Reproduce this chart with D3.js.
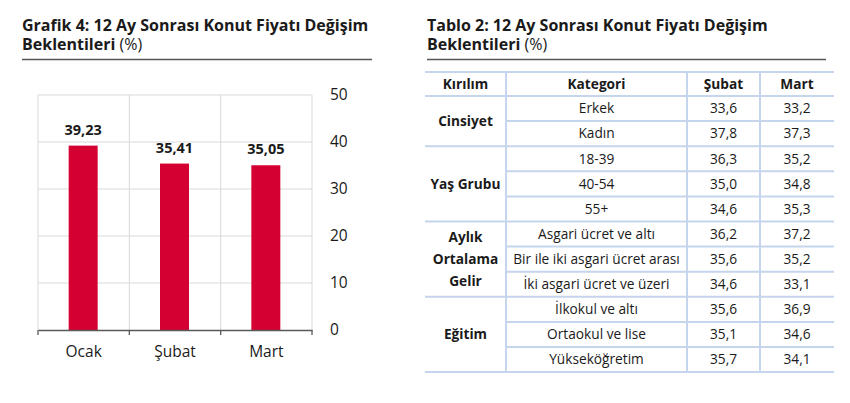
<!DOCTYPE html>
<html><head><meta charset="utf-8">
<script src="https://cdn.jsdelivr.net/npm/d3@7"></script>
<style>
body{margin:0;background:#fff;}
svg text{font-family:"Open Sans",sans-serif;}
</style></head>
<body><svg id="c" width="850" height="403"></svg>
<script>
// Chart data
const months = ["Ocak", "Şubat", "Mart"];
const values = [39.23, 35.41, 35.05];
const yTicks = [0, 10, 20, 30, 40, 50];

// Table data
const tableHeaders = ["Kırılım", "Kategori", "Şubat", "Mart"];
const groups = ["Cinsiyet", "Yaş Grubu", "Aylık\nOrtalama\nGelir", "Eğitim"];
const groupSizes = [2, 3, 3, 3];
const categories = ["Erkek", "Kadın", "18-39", "40-54", "55+", "Asgari ücret ve altı",
  "Bir ile iki asgari ücret arası", "İki asgari ücret ve üzeri", "İlkokul ve altı",
  "Ortaokul ve lise", "Yükseköğretim"];
const subat = ["33,6", "37,8", "36,3", "35,0", "34,6", "36,2", "35,6", "34,6", "35,6", "35,1", "35,7"];
const mart  = ["33,2", "37,3", "35,2", "34,8", "35,3", "37,2", "35,2", "33,1", "36,9", "34,6", "34,1"];

const svg = d3.select("#c");
const fmt = v => d3.format(".2f")(v).replace(".", ",");

// ---- Titles
function title(x, l1, l2) {
  svg.append("text").attr("x", x).attr("y", 30.5).attr("font-size", 16).attr("font-weight", 700).attr("fill", "#1a1a1a").text(l1);
  const t2 = svg.append("text").attr("x", x).attr("y", 49.5).attr("font-size", 16).attr("fill", "#1a1a1a");
  t2.append("tspan").attr("font-weight", 700).text(l2);
  t2.append("tspan").attr("font-weight", 400).attr("font-size", 16).text(" (%)");
}
title(22, "Grafik 4: 12 Ay Sonrası Konut Fiyatı Değişim", "Beklentileri");
title(427, "Tablo 2: 12 Ay Sonrası Konut Fiyatı Değişim", "Beklentileri");
svg.append("line").attr("x1", 22).attr("x2", 372).attr("y1", 59.5).attr("y2", 59.5).attr("stroke", "#555").attr("stroke-width", 1.3);
svg.append("line").attr("x1", 427).attr("x2", 826).attr("y1", 59.5).attr("y2", 59.5).attr("stroke", "#555").attr("stroke-width", 1.3);

// ---- Bar chart
const x = d3.scaleBand().domain(months).range([38, 312]).paddingInner(0).paddingOuter(0);
const y = d3.scaleLinear().domain([0, 50]).range([330, 95]);
const g = svg.append("g");
g.selectAll(".hg").data(yTicks.filter(d => d > 0)).join("line")
  .attr("x1", 38).attr("x2", 312).attr("y1", d => y(d)).attr("y2", d => y(d))
  .attr("stroke", "#d9d9d9").attr("stroke-width", 1);
const vx = months.map(m => x(m)).concat([x.range()[1]]);
g.selectAll(".vg").data(vx).join("line")
  .attr("x1", d => d).attr("x2", d => d).attr("y1", y(50)).attr("y2", y(0))
  .attr("stroke", "#d9d9d9").attr("stroke-width", 1);
const bw = 29;
g.selectAll("rect").data(values).join("rect")
  .attr("x", (d, i) => x(months[i]) + x.bandwidth() / 2 - bw / 2 - 0.5)
  .attr("width", bw).attr("y", d => y(d)).attr("height", d => y(0) - y(d))
  .attr("fill", "#d50032");
g.selectAll(".vl").data(values).join("text")
  .attr("x", (d, i) => x(months[i]) + x.bandwidth() / 2 - 0.5)
  .attr("y", d => y(d) - 11).attr("text-anchor", "middle")
  .attr("font-size", 14.5).attr("font-weight", 700).attr("fill", "#1a1a1a").text(fmt);
const xa = svg.append("g").attr("transform", `translate(0,${y(0)})`)
  .call(d3.axisBottom(x).tickSize(0).tickPadding(16));
xa.select(".domain").attr("stroke", "#595959").attr("stroke-width", 1.3);
xa.selectAll("text").attr("font-size", 15.5).attr("fill", "#1a1a1a").attr("font-family", "Open Sans");
svg.append("g").selectAll("line").data(vx).join("line")
  .attr("x1", d => d).attr("x2", d => d).attr("y1", y(0)).attr("y2", y(0) + 5)
  .attr("stroke", "#595959").attr("stroke-width", 1.3);
const ya = svg.append("g").attr("transform", "translate(312,0)")
  .call(d3.axisRight(y).tickValues(yTicks).tickSize(0).tickPadding(18));
ya.select(".domain").remove();
ya.selectAll("text").attr("font-size", 15.5).attr("fill", "#1a1a1a").attr("font-family", "Open Sans");

// ---- Table
const colX = [425, 506, 687, 760, 834];
const tTop = 72, headH = 24, rowH = 25.1;
const fs = 13.7;
const tg = svg.append("g");
const lineCol = "#c5d5eb";
const rowY = i => tTop + headH + i * rowH;
const nRows = categories.length;
tableHeaders.forEach((h, j) => {
  tg.append("text").attr("x", (colX[j] + colX[j + 1]) / 2).attr("y", tTop + headH / 2 + 4.8)
    .attr("text-anchor", "middle").attr("font-size", fs).attr("font-weight", 700).attr("fill", "#1a1a1a").text(h);
});
categories.forEach((c, i) => {
  const cy = rowY(i) + rowH / 2 + 4.8;
  [c, subat[i], mart[i]].forEach((v, k) => {
    tg.append("text").attr("x", (colX[k + 1] + colX[k + 2]) / 2).attr("y", cy)
      .attr("text-anchor", "middle").attr("font-size", fs).attr("fill", "#1a1a1a").text(v);
  });
});
let start = 0;
const groupStarts = [];
groups.forEach((gname, gi) => {
  groupStarts.push(start);
  const lines = gname.split("\n");
  const midY = rowY(start) + groupSizes[gi] * rowH / 2;
  lines.forEach((ln, li) => {
    tg.append("text").attr("x", (colX[0] + colX[1]) / 2)
      .attr("y", midY + (li - (lines.length - 1) / 2) * 22 + 4.8)
      .attr("text-anchor", "middle").attr("font-size", fs).attr("font-weight", 700).attr("fill", "#1a1a1a").text(ln);
  });
  start += groupSizes[gi];
});
tg.append("line").attr("x1", colX[0]).attr("x2", colX[4]).attr("y1", tTop).attr("y2", tTop).attr("stroke", lineCol).attr("stroke-width", 2);
for (let i = 0; i <= nRows; i++) {
  const full = i === 0 || i === nRows || groupStarts.includes(i);
  tg.append("line").attr("x1", full ? colX[0] : colX[1]).attr("x2", colX[4])
    .attr("y1", rowY(i)).attr("y2", rowY(i)).attr("stroke", lineCol).attr("stroke-width", 2);
}
[1, 2, 3].forEach(j => {
  tg.append("line").attr("x1", colX[j]).attr("x2", colX[j]).attr("y1", tTop).attr("y2", rowY(nRows))
    .attr("stroke", lineCol).attr("stroke-width", 2);
});
</script></body></html>
